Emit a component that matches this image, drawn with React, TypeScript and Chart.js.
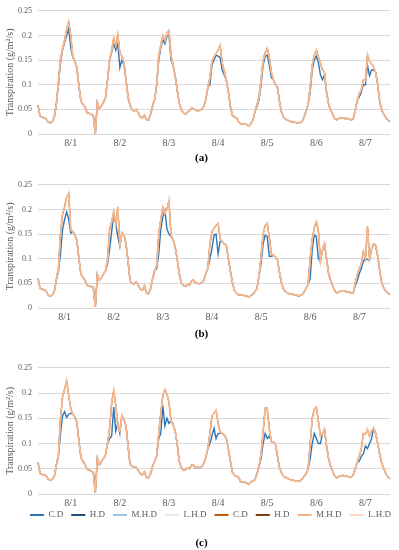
import React, { useEffect, useRef } from "react";
import { Chart, registerables } from "chart.js";

Chart.register(...registerables);

const FONT = "'Liberation Serif', 'Times New Roman', serif";
const TEXT = "#595959";
const GRID = "#d9d9d9";

const DAY_LABELS = ["8/1", "8/2", "8/3", "8/4", "8/5", "8/6", "8/7"];
const LABEL_AT_A = [16, 40, 64, 88, 112, 136, 160];
const LABEL_AT_B = [13, 37, 61, 85, 109, 133, 157];
const LABEL_AT_C = [16, 40, 64, 88, 112, 136, 160];
const SERIES_NAMES = ["C.D", "H.D", "M.H.D", "L.H.D", "C.D", "H.D", "M.H.D", "L.H.D"];
const SERIES_COLORS = ["#2E75B6", "#1F4E79", "#9DC3E6", "#DEEBF7", "#C55A11", "#843C0C", "#F4B183", "#FAD7BF"];
const LINE_COLORS = ["#2E75B6", "#1F4E79", "#9DC3E6", "#DEEBF7", "#C55A11", "#843C0C", "#F4B183", "#F4B990"];
const SERIES_WIDTHS = [1.4, 1, 1, 1, 1, 1, 1, 1.8];
const Y_MAX = 0.25;
const Y_STEP = 0.05;
const Y_TITLE = "Transpiration (g/m²/s)";

// Panel (a)
const aBlue = [
  0.058, 0.036, 0.034, 0.033, 0.030, 0.024, 0.023, 0.025, 0.035, 0.062,
  0.100, 0.145, 0.170, 0.185, 0.200, 0.213, 0.175, 0.155, 0.148, 0.134,
  0.097, 0.066, 0.060, 0.055, 0.043, 0.042, 0.040, 0.038, 0.000, 0.064,
  0.051, 0.057, 0.064, 0.074, 0.110, 0.150, 0.165, 0.185, 0.170, 0.183,
  0.135, 0.150, 0.140, 0.110, 0.075, 0.058, 0.049, 0.046, 0.050, 0.043,
  0.034, 0.033, 0.038, 0.029, 0.028, 0.040, 0.057, 0.070, 0.100, 0.150,
  0.175, 0.192, 0.183, 0.198, 0.200, 0.150, 0.140, 0.118, 0.090, 0.063,
  0.050, 0.043, 0.040, 0.044, 0.047, 0.053, 0.051, 0.049, 0.047, 0.048,
  0.050, 0.056, 0.070, 0.095, 0.100, 0.140, 0.150, 0.160, 0.158, 0.155,
  0.130, 0.120, 0.110, 0.086, 0.056, 0.038, 0.034, 0.033, 0.025, 0.021,
  0.021, 0.021, 0.019, 0.016, 0.021, 0.028, 0.045, 0.055, 0.070, 0.100,
  0.140, 0.158, 0.160, 0.140, 0.115, 0.110, 0.100, 0.095, 0.066, 0.044,
  0.034, 0.030, 0.028, 0.026, 0.025, 0.025, 0.023, 0.023, 0.023, 0.025,
  0.034, 0.046, 0.060, 0.085, 0.130, 0.150, 0.158, 0.145, 0.120, 0.110,
  0.120, 0.085, 0.061, 0.048, 0.040, 0.031, 0.029, 0.031, 0.033, 0.033,
  0.031, 0.032, 0.030, 0.029, 0.030, 0.048, 0.068, 0.075, 0.085, 0.100,
  0.100, 0.140, 0.118, 0.130, 0.130, 0.125, 0.100, 0.065, 0.048, 0.040,
  0.033, 0.028, 0.025,
];
const aOrange = [
  0.058, 0.036, 0.034, 0.033, 0.030, 0.024, 0.023, 0.025, 0.035, 0.062,
  0.107, 0.152, 0.173, 0.190, 0.212, 0.228, 0.200, 0.157, 0.148, 0.134,
  0.097, 0.066, 0.060, 0.055, 0.043, 0.042, 0.040, 0.038, 0.000, 0.064,
  0.051, 0.057, 0.064, 0.074, 0.110, 0.150, 0.170, 0.195, 0.180, 0.202,
  0.165, 0.158, 0.145, 0.110, 0.075, 0.058, 0.049, 0.046, 0.050, 0.043,
  0.034, 0.033, 0.038, 0.029, 0.028, 0.040, 0.057, 0.070, 0.100, 0.160,
  0.180, 0.200, 0.190, 0.205, 0.210, 0.160, 0.140, 0.118, 0.090, 0.063,
  0.050, 0.043, 0.040, 0.044, 0.047, 0.053, 0.051, 0.049, 0.047, 0.048,
  0.050, 0.056, 0.070, 0.095, 0.114, 0.148, 0.157, 0.164, 0.170, 0.180,
  0.144, 0.128, 0.110, 0.086, 0.056, 0.038, 0.034, 0.033, 0.025, 0.021,
  0.021, 0.021, 0.019, 0.016, 0.021, 0.028, 0.045, 0.060, 0.075, 0.110,
  0.150, 0.165, 0.174, 0.157, 0.125, 0.110, 0.100, 0.095, 0.066, 0.044,
  0.034, 0.030, 0.028, 0.026, 0.025, 0.025, 0.023, 0.023, 0.023, 0.025,
  0.034, 0.046, 0.060, 0.095, 0.140, 0.160, 0.170, 0.157, 0.144, 0.130,
  0.125, 0.085, 0.061, 0.048, 0.040, 0.031, 0.029, 0.031, 0.033, 0.033,
  0.031, 0.032, 0.030, 0.029, 0.030, 0.048, 0.068, 0.082, 0.090, 0.110,
  0.108, 0.160, 0.147, 0.143, 0.135, 0.125, 0.100, 0.065, 0.048, 0.040,
  0.033, 0.028, 0.025,
];

// Panel (b)
const bBlue = [
  0.060, 0.040, 0.038, 0.037, 0.034, 0.026, 0.024, 0.026, 0.035, 0.058,
  0.075, 0.110, 0.160, 0.180, 0.195, 0.180, 0.152, 0.155, 0.149, 0.137,
  0.100, 0.068, 0.062, 0.055, 0.046, 0.045, 0.043, 0.042, 0.002, 0.068,
  0.056, 0.061, 0.069, 0.076, 0.090, 0.120, 0.155, 0.193, 0.170, 0.145,
  0.125, 0.153, 0.148, 0.130, 0.095, 0.055, 0.050, 0.049, 0.053, 0.046,
  0.038, 0.036, 0.045, 0.030, 0.029, 0.039, 0.059, 0.076, 0.080, 0.110,
  0.160, 0.185, 0.198, 0.160, 0.150, 0.145, 0.139, 0.124, 0.100, 0.070,
  0.051, 0.046, 0.044, 0.047, 0.046, 0.055, 0.057, 0.050, 0.050, 0.049,
  0.051, 0.056, 0.070, 0.080, 0.100, 0.120, 0.148, 0.150, 0.110, 0.135,
  0.135, 0.130, 0.128, 0.100, 0.075, 0.052, 0.035, 0.030, 0.027, 0.027,
  0.026, 0.025, 0.025, 0.022, 0.025, 0.028, 0.033, 0.040, 0.065, 0.090,
  0.130, 0.148, 0.145, 0.105, 0.105, 0.107, 0.104, 0.098, 0.072, 0.050,
  0.038, 0.033, 0.030, 0.029, 0.028, 0.027, 0.026, 0.025, 0.025, 0.027,
  0.032, 0.040, 0.048, 0.060, 0.120, 0.148, 0.145, 0.100, 0.095, 0.118,
  0.130, 0.100, 0.070, 0.055, 0.045, 0.035, 0.030, 0.033, 0.034, 0.035,
  0.034, 0.033, 0.032, 0.031, 0.030, 0.045, 0.055, 0.070, 0.080, 0.095,
  0.100, 0.098, 0.097, 0.120, 0.130, 0.127, 0.105, 0.075, 0.050, 0.040,
  0.034, 0.030, 0.027,
];
const bOrange = [
  0.060, 0.040, 0.038, 0.037, 0.034, 0.026, 0.024, 0.026, 0.035, 0.058,
  0.082, 0.150, 0.190, 0.205, 0.225, 0.233, 0.158, 0.155, 0.149, 0.137,
  0.100, 0.068, 0.062, 0.055, 0.046, 0.045, 0.043, 0.042, 0.002, 0.068,
  0.056, 0.061, 0.069, 0.076, 0.100, 0.160, 0.175, 0.195, 0.170, 0.205,
  0.125, 0.153, 0.148, 0.130, 0.095, 0.055, 0.050, 0.049, 0.053, 0.046,
  0.038, 0.036, 0.045, 0.030, 0.029, 0.039, 0.059, 0.076, 0.086, 0.150,
  0.180, 0.205, 0.192, 0.200, 0.218, 0.148, 0.139, 0.124, 0.100, 0.070,
  0.051, 0.046, 0.044, 0.047, 0.046, 0.055, 0.057, 0.050, 0.050, 0.049,
  0.051, 0.056, 0.070, 0.080, 0.130, 0.155, 0.162, 0.167, 0.172, 0.140,
  0.135, 0.130, 0.128, 0.100, 0.075, 0.052, 0.035, 0.030, 0.027, 0.027,
  0.026, 0.025, 0.025, 0.022, 0.025, 0.028, 0.033, 0.040, 0.065, 0.105,
  0.150, 0.167, 0.172, 0.145, 0.110, 0.107, 0.104, 0.098, 0.072, 0.050,
  0.038, 0.033, 0.030, 0.029, 0.028, 0.027, 0.026, 0.025, 0.025, 0.027,
  0.032, 0.040, 0.048, 0.100, 0.140, 0.162, 0.175, 0.158, 0.095, 0.118,
  0.130, 0.100, 0.070, 0.055, 0.045, 0.035, 0.030, 0.033, 0.034, 0.035,
  0.034, 0.033, 0.032, 0.031, 0.030, 0.050, 0.068, 0.080, 0.090, 0.115,
  0.100, 0.165, 0.100, 0.120, 0.130, 0.127, 0.105, 0.075, 0.050, 0.040,
  0.034, 0.030, 0.027,
];

// Panel (c)
const cBlue = [
  0.062, 0.041, 0.039, 0.038, 0.036, 0.029, 0.028, 0.029, 0.035, 0.058,
  0.075, 0.120, 0.155, 0.163, 0.152, 0.158, 0.160, 0.158, 0.153, 0.142,
  0.105, 0.072, 0.065, 0.058, 0.049, 0.048, 0.045, 0.044, 0.002, 0.071,
  0.058, 0.064, 0.070, 0.078, 0.100, 0.110, 0.115, 0.172, 0.125, 0.140,
  0.120, 0.155, 0.147, 0.135, 0.095, 0.058, 0.055, 0.054, 0.053, 0.047,
  0.040, 0.038, 0.044, 0.033, 0.032, 0.040, 0.055, 0.065, 0.075, 0.110,
  0.120, 0.175, 0.135, 0.150, 0.140, 0.145, 0.138, 0.125, 0.100, 0.065,
  0.052, 0.047, 0.048, 0.052, 0.050, 0.057, 0.057, 0.052, 0.053, 0.052,
  0.054, 0.060, 0.072, 0.090, 0.100, 0.115, 0.130, 0.110, 0.120, 0.120,
  0.120, 0.117, 0.110, 0.090, 0.065, 0.043, 0.037, 0.035, 0.033, 0.024,
  0.023, 0.023, 0.022, 0.019, 0.024, 0.026, 0.028, 0.040, 0.055, 0.070,
  0.100, 0.120, 0.110, 0.115, 0.104, 0.103, 0.099, 0.075, 0.052, 0.042,
  0.035, 0.033, 0.031, 0.029, 0.028, 0.027, 0.026, 0.025, 0.026, 0.029,
  0.035, 0.040, 0.050, 0.070, 0.100, 0.120, 0.110, 0.100, 0.100, 0.120,
  0.128, 0.095, 0.070, 0.055, 0.045, 0.035, 0.032, 0.035, 0.036, 0.037,
  0.035, 0.035, 0.034, 0.033, 0.037, 0.050, 0.063, 0.065, 0.075, 0.080,
  0.095, 0.090, 0.100, 0.110, 0.130, 0.120, 0.100, 0.078, 0.060, 0.050,
  0.040, 0.034, 0.030,
];
const cOrange = [
  0.062, 0.041, 0.039, 0.038, 0.036, 0.029, 0.028, 0.029, 0.035, 0.058,
  0.078, 0.150, 0.193, 0.208, 0.224, 0.195, 0.170, 0.158, 0.153, 0.142,
  0.105, 0.072, 0.065, 0.058, 0.049, 0.048, 0.045, 0.044, 0.002, 0.071,
  0.058, 0.064, 0.070, 0.078, 0.100, 0.130, 0.180, 0.205, 0.175, 0.135,
  0.125, 0.155, 0.147, 0.135, 0.095, 0.058, 0.055, 0.054, 0.053, 0.047,
  0.040, 0.038, 0.044, 0.033, 0.032, 0.040, 0.055, 0.065, 0.075, 0.120,
  0.160, 0.195, 0.207, 0.198, 0.182, 0.145, 0.138, 0.125, 0.100, 0.065,
  0.052, 0.047, 0.048, 0.052, 0.050, 0.057, 0.057, 0.052, 0.053, 0.052,
  0.054, 0.060, 0.072, 0.090, 0.120, 0.155, 0.160, 0.166, 0.140, 0.123,
  0.120, 0.117, 0.110, 0.090, 0.065, 0.043, 0.037, 0.035, 0.033, 0.024,
  0.023, 0.023, 0.022, 0.019, 0.024, 0.026, 0.028, 0.040, 0.055, 0.080,
  0.123, 0.170, 0.170, 0.130, 0.104, 0.103, 0.099, 0.075, 0.052, 0.042,
  0.035, 0.033, 0.031, 0.029, 0.028, 0.027, 0.026, 0.025, 0.026, 0.029,
  0.035, 0.040, 0.050, 0.100, 0.150, 0.168, 0.172, 0.145, 0.115, 0.120,
  0.128, 0.095, 0.070, 0.055, 0.045, 0.035, 0.032, 0.035, 0.036, 0.037,
  0.035, 0.035, 0.034, 0.033, 0.037, 0.050, 0.063, 0.076, 0.090, 0.120,
  0.118, 0.128, 0.115, 0.126, 0.130, 0.120, 0.100, 0.078, 0.060, 0.050,
  0.040, 0.034, 0.030,
];

const LEGEND_SHIFT = 7.5;

const legendShiftPlugin = {
  id: "legendShift",
  afterLayout(chart: any) {
    const lg = chart.legend;
    if (lg && lg.options && lg.options.display) {
      lg.top -= LEGEND_SHIFT;
      lg.bottom -= LEGEND_SHIFT;
    }
  },
};

type PanelProps = {
  top: number;
  height: number;
  xAxisHeight: number;
  blue: number[];
  orange: number[];
  labelAt: number[];
  legend: boolean;
};

function Panel({ top, height, xAxisHeight, blue, orange, labelAt, legend }: PanelProps) {
  const ref = useRef<HTMLCanvasElement>(null);
  useEffect(() => {
    const labels = blue.map((_, i) => {
      const k = labelAt.indexOf(i);
      return k >= 0 ? DAY_LABELS[k] : "";
    });
    // C.D blue shows the lower curve; the other series run with the orange curve
    const seriesData = [blue, orange, orange, orange, orange, orange, orange, orange];
    const datasets = SERIES_NAMES.map((name, i) => ({
      label: name,
      data: seriesData[i],
      borderColor: LINE_COLORS[i],
      backgroundColor: SERIES_COLORS[i],
      borderWidth: SERIES_WIDTHS[i],
      pointRadius: 0,
      tension: 0,
      fill: false,
      order: SERIES_NAMES.length - 1 - i,
    }));
    const chart = new Chart(ref.current as HTMLCanvasElement, {
      type: "line",
      data: { labels, datasets },
      plugins: [legendShiftPlugin],
      options: {
        animation: false,
        responsive: false,
        maintainAspectRatio: false,
        events: [],
        layout: { padding: { top: 8, left: 0, right: 0, bottom: 0 } },
        plugins: {
          tooltip: { enabled: false },
          legend: {
            display: legend,
            position: "bottom",
            align: "end",
            fullSize: true,
            labels: {
              boxWidth: 14,
              boxHeight: 2,
              padding: 8,
              color: TEXT,
              font: { family: FONT, size: 9 },
              sort: (a: any, b: any) => a.datasetIndex - b.datasetIndex,
              generateLabels: (c: any) =>
                (Chart.defaults.plugins.legend.labels.generateLabels as any)(c).map((l: any) => ({
                  ...l,
                  lineWidth: 0,
                })),
            },
          },
        },
        scales: {
          x: {
            type: "category",
            grid: { display: false, drawTicks: false },
            border: { display: false },
            ticks: {
              autoSkip: false,
              maxRotation: 0,
              minRotation: 0,
              padding: 3,
              color: TEXT,
              font: { family: FONT, size: 10 },
            },
            afterFit: (s: any) => {
              s.height = xAxisHeight;
            },
          },
          y: {
            type: "linear",
            position: "left",
            min: 0,
            max: Y_MAX,
            grid: { color: GRID, lineWidth: 1, drawTicks: false },
            border: { display: false },
            ticks: {
              stepSize: Y_STEP,
              padding: 6,
              color: TEXT,
              font: { family: FONT, size: 8 },
              callback: (v: any) => String(Number(Number(v).toFixed(2))),
            },
            title: {
              display: true,
              text: Y_TITLE,
              color: TEXT,
              font: { family: FONT, size: 10 },
            },
            afterFit: (s: any) => {
              s.width = 38;
            },
          },
          yR: {
            type: "linear",
            position: "right",
            display: true,
            grid: { display: false, drawTicks: false },
            border: { display: false },
            ticks: { display: false },
            afterFit: (s: any) => {
              s.width = 9;
            },
          },
        },
      } as any,
    });
    return () => chart.destroy();
  }, []);
  return (
    <canvas
      ref={ref}
      width={399}
      height={height}
      style={{ position: "absolute", left: 0, top, width: 399, height }}
    />
  );
}

function Caption({ text, center }: { text: string; center: number }) {
  return (
    <div
      style={{
        position: "absolute",
        left: 2,
        width: 399,
        top: center - 8,
        height: 16,
        lineHeight: "16px",
        textAlign: "center",
        fontFamily: FONT,
        fontSize: 11,
        fontWeight: "bold",
        color: "#000",
      }}
    >
      {text}
    </div>
  );
}

export default function App() {
  return (
    <div
      style={{
        position: "absolute",
        left: 0,
        top: 0,
        width: 399,
        height: 550,
        background: "#fff",
        overflow: "hidden",
      }}
    >
      <Panel top={0} height={150} xAxisHeight={16} blue={aBlue} orange={aOrange} labelAt={LABEL_AT_A} legend={false} />
      <Caption text="(a)" center={157} />
      <Panel top={174} height={150} xAxisHeight={16} blue={bBlue} orange={bOrange} labelAt={LABEL_AT_B} legend={false} />
      <Caption text="(b)" center={333} />
      <Panel top={357} height={180} xAxisHeight={16} blue={cBlue} orange={cOrange} labelAt={LABEL_AT_C} legend={true} />
      <Caption text="(c)" center={542} />
    </div>
  );
}
